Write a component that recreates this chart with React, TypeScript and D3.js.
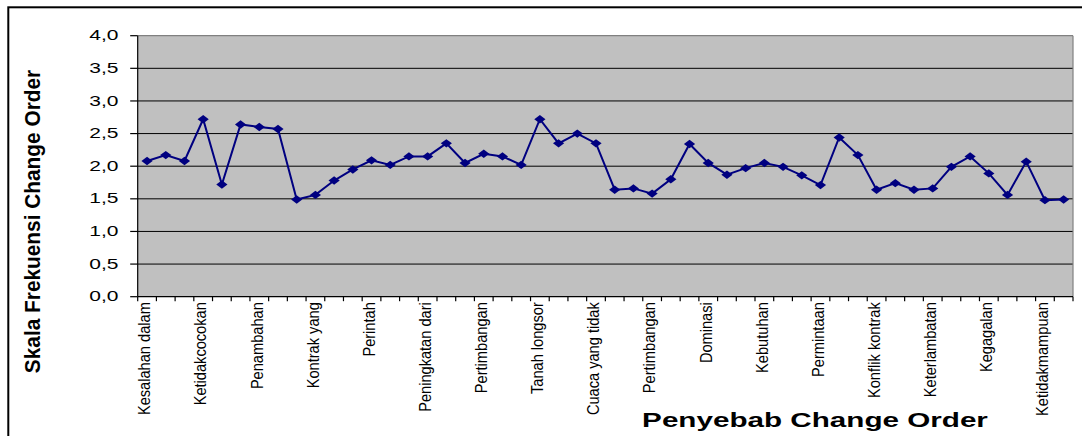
import React from "react";
import * as d3 from "d3";

const values: number[] = [
  2.08, 2.17, 2.08, 2.72, 1.72, 2.64, 2.6, 2.57, 1.49, 1.56,
  1.78, 1.95, 2.09, 2.02, 2.15, 2.15, 2.35, 2.05, 2.19, 2.15,
  2.02, 2.72, 2.35, 2.5, 2.35, 1.64, 1.66, 1.58, 1.8, 2.34,
  2.05, 1.87, 1.97, 2.05, 1.99, 1.86, 1.71, 2.44, 2.17, 1.64,
  1.74, 1.64, 1.66, 1.99, 2.15, 1.89, 1.56, 2.07, 1.48, 1.49,
];

const tickLabels: string[] = [
  "Kesalahan dalam", "Ketidakcocokan", "Penambahan", "Kontrak yang",
  "Perintah", "Peningkatan dari", "Pertimbangan", "Tanah longsor",
  "Cuaca yang tidak", "Pertimbangan", "Dominasi", "Kebutuhan",
  "Permintaan", "Konflik kontrak", "Keterlambatan", "Kegagalan",
  "Ketidakmampuan",
];
const labelEvery = 3;
const yTicks: number[] = [0, 0.5, 1, 1.5, 2, 2.5, 3, 3.5, 4];
const yTitle = "Skala Frekuensi Change Order";
const xTitle = "Penyebab Change Order";

const FONT = "'Liberation Sans', Arial, Helvetica, sans-serif";

export default function App() {
  const left = 137.7, right = 1073, top = 35.7, bottom = 296.7;
  const idx = d3.range(values.length);
  const x = d3.scaleBand<number>().domain(idx).range([left, right]).padding(0);
  const y = d3.scaleLinear().domain([0, 4]).range([bottom, top]);
  const cx = (i: number) => (x(i) as number) + x.bandwidth() / 2;
  const line = d3.line<number>().x((_, i) => cx(i)).y((d) => y(d));
  const diamond = "M0,-4.2L5.6,0L0,4.2L-5.6,0Z";
  const boundaries = d3.range(values.length + 1).map((i) => left + i * x.bandwidth());

  return (
    <svg width={1082} height={436} style={{ position: "absolute", left: 0, top: 0, background: "#fff" }}>
      <rect x={8.3} y={7.3} width={1100} height={460} fill="#fff" stroke="#000" strokeWidth={2} />
      <rect x={left} y={top} width={right - left} height={bottom - top} fill="#C0C0C0" />
      {yTicks.filter((t) => t > 0 && t < 4).map((t) => (
        <line key={t} x1={left} x2={right} y1={y(t)} y2={y(t)} stroke="#000" strokeWidth={1} />
      ))}
      <line x1={left} x2={right} y1={top} y2={top} stroke="#808080" strokeWidth={1.2} />
      <line x1={right} x2={right} y1={top} y2={bottom} stroke="#808080" strokeWidth={1.2} />
      {/* y axis */}
      <line x1={left} x2={left} y1={top} y2={bottom} stroke="#000" strokeWidth={1.2} />
      {yTicks.map((t) => (
        <g key={t}>
          <line x1={left - 7.5} x2={left} y1={y(t)} y2={y(t)} stroke="#000" strokeWidth={1.2} />
          <text
            transform={`translate(118.5,${y(t) + 4.6}) scale(1.5,1)`}
            textAnchor="end"
            fontFamily={FONT}
            fontSize={14}
            fill="#000"
          >
            {d3.format(".1f")(t).replace(".", ",")}
          </text>
        </g>
      ))}
      {/* x axis */}
      <line x1={left} x2={right} y1={bottom} y2={bottom} stroke="#000" strokeWidth={1.2} />
      {boundaries.map((bx, i) => (
        <line key={i} x1={bx} x2={bx} y1={bottom} y2={bottom + 4.5} stroke="#000" strokeWidth={1.2} />
      ))}
      {tickLabels.map((lab, k) => {
        const i = k * labelEvery;
        return (
          <text
            key={k}
            transform={`translate(${cx(i) + 3.3},${bottom + 5.5}) rotate(-90) scale(0.86,1)`}
            textAnchor="end"
            fontFamily={FONT}
            fontSize={17}
            fill="#000"
          >
            {lab}
          </text>
        );
      })}
      {/* series */}
      <path d={line(values) || ""} fill="none" stroke="#000080" strokeWidth={2} />
      {values.map((v, i) => (
        <path key={i} d={diamond} transform={`translate(${cx(i)},${y(v)})`} fill="#000080" />
      ))}
      {/* titles */}
      <text
        transform={`translate(39.5,221.5) rotate(-90) scale(0.97,1)`}
        textAnchor="middle"
        fontFamily={FONT}
        fontWeight="bold"
        fontSize={21.5}
        fill="#000"
      >
        {yTitle}
      </text>
      <text
        transform={`translate(815,427.3) scale(1.52,1)`}
        textAnchor="middle"
        fontFamily={FONT}
        fontWeight="bold"
        fontSize={19.5}
        fill="#000"
      >
        {xTitle}
      </text>
    </svg>
  );
}
